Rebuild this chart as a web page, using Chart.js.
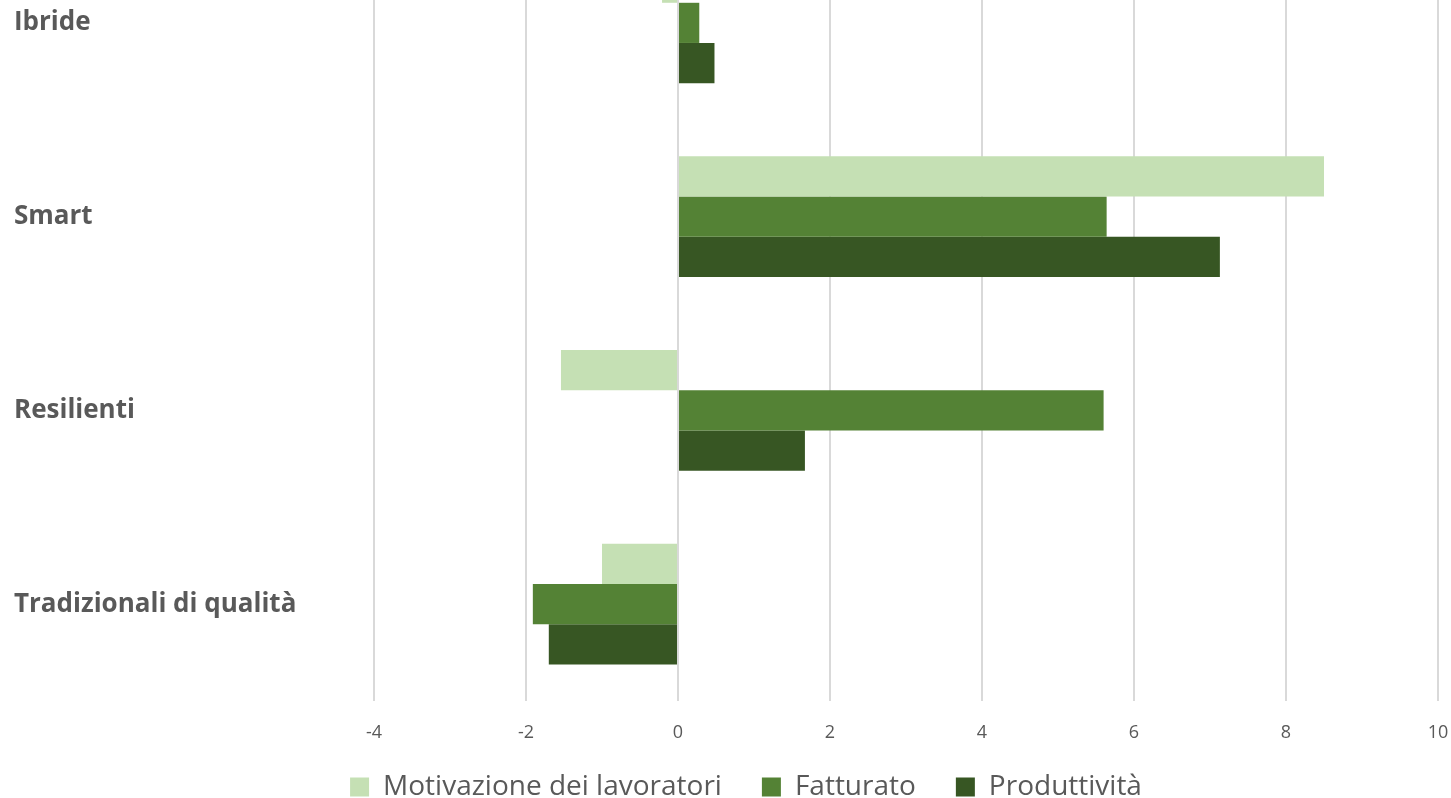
<!DOCTYPE html>
<html>
<head>
<meta charset="utf-8">
<script src="https://cdn.jsdelivr.net/npm/chart.js@4/dist/chart.umd.min.js"></script>
<style>
  html, body { margin: 0; padding: 0; background: #fff; overflow: hidden; }
  #wrap { position: absolute; left: 0; top: -74px; width: 1451px; height: 911px; }
</style>
</head>
<body>
<div id="wrap"><canvas id="c"></canvas></div>
<script>
/* categories, top to bottom (top one is cut off by the frame) */
var categories = ['Ibride', 'Smart', 'Resilienti', 'Tradizionali di qualità'];

/* series values */
var motivazione = [-0.21, 8.5, -1.54, -1.0];
var fatturato   = [0.28, 5.64, 5.6, -1.91];
var produttivita = [0.48, 7.13, 1.67, -1.7];

var seriesNames = ['Motivazione dei lavoratori', 'Fatturato', 'Produttività'];
var xTicks = [-4, -2, 0, 2, 4, 6, 8, 10];

var COLORS = { light: '#c5e0b4', mid: '#548235', dark: '#375623', text: '#595959', grid: '#d9d9d9' };

var ds = function (label, data, color) {
  return { label: label, data: data, backgroundColor: color, borderColor: color, borderWidth: 0,
           categoryPercentage: 0.622, barPercentage: 1.0 };
};

// legend sits a little right of centre and tucked up under the tick labels
var legendShift = {
  id: 'legendShift',
  afterLayout: function (chart) {
    var lg = chart.legend;
    if (!lg) return;
    lg.left += 20; lg.right += 20;
    lg.top -= 26; lg.bottom -= 26;
  }
};

new Chart(document.getElementById('c'), {
  type: 'bar',
  data: {
    labels: categories,
    datasets: [
      ds(seriesNames[0], motivazione, COLORS.light),
      ds(seriesNames[1], fatturato, COLORS.mid),
      ds(seriesNames[2], produttivita, COLORS.dark)
    ]
  },
  plugins: [legendShift],
  options: {
    indexAxis: 'y',
    responsive: true, maintainAspectRatio: false,
    animation: false,
    layout: { padding: { left: 14, right: 13, top: 0, bottom: 0 } },
    plugins: {
      tooltip: { enabled: false },
      legend: {
        position: 'bottom',
        labels: { boxWidth: 19, boxHeight: 19, padding: 40, color: COLORS.text,
                  font: { family: 'Open Sans', size: 28 } }
      }
    },
    scales: {
      x: {
        min: -4, max: 10,
        afterBuildTicks: function (s) { s.ticks = xTicks.map(function (v) { return { value: v }; }); },
        afterFit: function (s) { s.height = 58; s.paddingLeft = 0; s.paddingRight = 0; },
        grid: { color: COLORS.grid, lineWidth: 2, drawTicks: false },
        border: { display: false },
        ticks: { padding: 21, color: COLORS.text, font: { family: 'Open Sans', size: 18 } }
      },
      y: {
        afterFit: function (s) { s.width = 360; s.paddingTop = 0; s.paddingBottom = 0; },
        grid: { display: false },
        border: { display: false },
        ticks: { crossAlign: 'far', color: COLORS.text, font: { family: 'Open Sans', size: 26, weight: 'bold' } }
      }
    }
  }
});
</script>
</body>
</html>
